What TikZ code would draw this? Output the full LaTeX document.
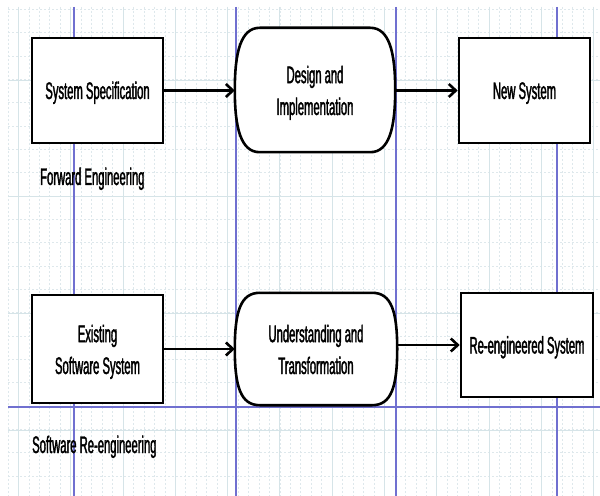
\documentclass[tikz,border=0pt]{standalone}
\usepackage{fontspec}
\setmainfont{Liberation Sans}[FakeStretch=0.47,FakeBold=1.5]
\usetikzlibrary{calc,arrows.meta}

\newcommand\diagfont{\fontsize{24}{32}\selectfont}

% outline of a terminator-like shape drawn around a named node
\newcommand\capsuleoutline[1]{%
  \draw[outline]
    ($(#1.north west)+(25,0)$) -- ($(#1.north east)+(-25,0)$)
    .. controls ($(#1.north east)+(-6,0)$) and ($(#1.east)+(0,-38)$) .. (#1.east)
    .. controls ($(#1.east)+(0,38)$) and ($(#1.south east)+(-6,0)$) .. ($(#1.south east)+(-25,0)$)
    -- ($(#1.south west)+(25,0)$)
    .. controls ($(#1.south west)+(6,0)$) and ($(#1.west)+(0,38)$) .. (#1.west)
    .. controls ($(#1.west)+(0,-38)$) and ($(#1.north west)+(6,0)$) .. cycle;}

\definecolor{gridmajor}{RGB}{214,228,232}
\definecolor{gridminor}{RGB}{222,232,236}
\definecolor{guide}{RGB}{112,112,208}

\begin{document}
\begin{tikzpicture}[x=1bp,y=-1bp,
  outline/.style={draw=black, line width=2.6bp, fill=white},
  box/.style={outline, inner sep=0pt, align=center, font=\diagfont,
              text height=21bp, text depth=4bp},
  twoline/.style={text height=54bp, text depth=4bp},
  capsule/.style={inner sep=0pt, align=center, font=\diagfont},
  caption/.style={anchor=base west, inner sep=0pt, font=\diagfont},
  flow/.style={line width=2.8bp, -{Straight Barb[length=7bp,width=13bp,line width=2.6bp]}},
  thinflow/.style={line width=2bp, -{Straight Barb[length=7bp,width=13bp,line width=2.6bp]}},
  gridmaj/.style={draw=gridmajor, line width=0.8bp},
  gridmin/.style={draw=gridminor, line width=0.8bp, dash pattern=on 2bp off 2bp},
  guideline/.style={draw=guide, line width=1.2bp}
]
\useasboundingbox (0,0) rectangle (600,496);
\fill[white] (0,0) rectangle (600,496);

% drawing-sheet grid
\foreach \k in {0,...,56} {
  \draw[gridmin] ({8+10.46*\k},7) -- ({8+10.46*\k},496);
}
\foreach \k in {0,...,21} {
  \draw[gridmin] (8,{9.3+23.34*\k}) -- (600,{9.3+23.34*\k});
}
\foreach \k in {0,...,11} {
  \draw[gridmaj] ({18.3+52.3*\k},7) -- ({18.3+52.3*\k},496);
}
\foreach \y in {80,196.7,313.4,430} {
  \draw[gridmaj] (8,\y) -- (600,\y);
}

% guide lines
\foreach \x in {74,236,396,557} {
  \draw[guideline] (\x,7) -- (\x,496);
}
\draw[guide, line width=2bp] (8,407) -- (600,407);

% forward engineering
\node[box, minimum width=131bp, minimum height=105bp] (spec) at (97.5,90.5) {System Specification};
\node[capsule, minimum width=160bp, minimum height=124bp] (design) at (315,90) {};
\capsuleoutline{design}
\node[capsule, twoline] (designtxt) at (design.center) {Design and\\Implementation};
\node[box, minimum width=131bp, minimum height=105bp] (newsys) at (524.5,90.5) {New System};
\node[caption] (fwd) at (40,185) {Forward Engineering};

\draw[flow] (spec.east) -- (spec.east -| design.west);
\draw[flow] (design.east |- newsys.west) -- (newsys.west);

% software re-engineering
\node[box, twoline, minimum width=131bp, minimum height=108bp] (exist) at (97.5,349) {Existing\\Software System};
\node[capsule, minimum width=162bp, minimum height=112bp] (under) at (316,349) {};
\capsuleoutline{under}
\node[capsule, twoline] (undertxt) at (under.center) {Understanding and\\Transformation};
\node[box, minimum width=132bp, minimum height=104bp] (reeng) at (527,345) {Re-engineered System};
\node[caption] (reng) at (32,453) {Software Re-engineering};

\draw[thinflow] (exist.east) -- (exist.east -| under.west);
\draw[flow] (under.east |- reeng.west) -- (reeng.west);
\end{tikzpicture}
\end{document}
